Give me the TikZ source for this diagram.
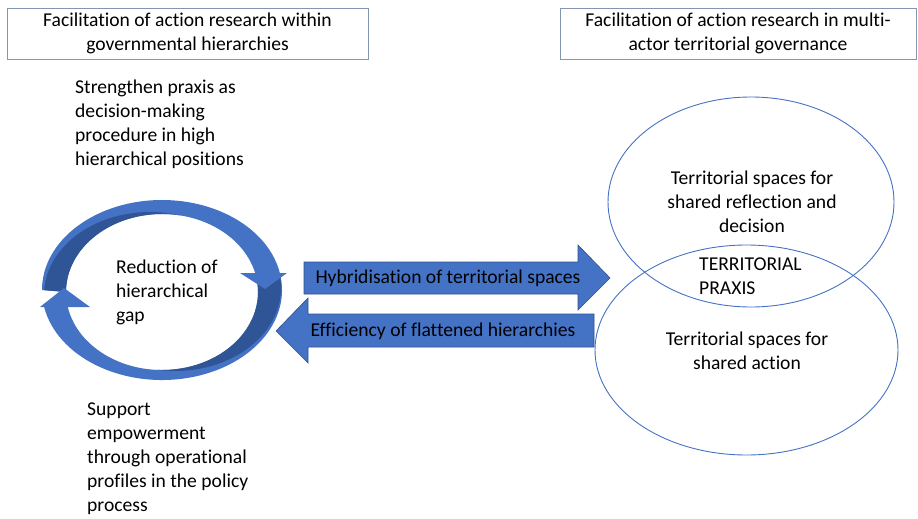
\documentclass[tikz,border=0pt]{standalone}
\usepackage{fontspec}
\setmainfont{Carlito}[Ligatures={NoCommon}]
\usetikzlibrary{shapes.geometric}
\definecolor{lightblue}{HTML}{4472C4}
\definecolor{darkblue}{HTML}{2F5597}
\definecolor{boxline}{HTML}{8497B0}
\definecolor{arrowline}{HTML}{2F528F}
\tikzset{
  txt/.style={inner sep=0pt, font=\fontsize{19.6}{24}\selectfont},
  titlebox/.style={draw=boxline, line width=1pt, minimum width=361pt, minimum height=51pt, inner sep=0pt},
  blockarrow/.style={fill=lightblue, draw=arrowline, line width=0.6pt},
  venn/.style={ellipse, draw=lightblue, line width=0.9pt, inner sep=0pt},
}
\begin{document}
\begin{tikzpicture}[x=1pt,y=1pt]
\useasboundingbox (0,0) rectangle (918,-519);
% title boxes
\node[titlebox] (tb1) at (187.5,-34.5) {};
\node[txt, align=center] (tt1) at (187.5,-33) {Facilitation of action research within\\governmental hierarchies};
\node[titlebox, minimum width=356pt] (tb2) at (738,-34.5) {};
\node[txt, align=center] (tt2) at (738,-33) {Facilitation of action research in multi-\\actor territorial governance};
% left texts
\node[txt, align=left, anchor=west] (strength) at (75,-124.5) {Strengthen praxis as\\decision-making\\procedure in high\\hierarchical positions};
\node[txt, align=left, anchor=west] (support) at (87,-459) {Support\\empowerment\\through operational\\profiles in the policy\\process};
% circular arrows: bottom arrow
\path[fill=lightblue] (279.8,-272.83) arc[start angle=11, end angle=-169, x radius=120pt, y radius=90pt]
  -- (67.76,-306.88) arc[start angle=-169, end angle=11, x radius=96pt, y radius=78pt] -- cycle;
\begin{scope}
\clip (279.8,-272.83) arc[start angle=11, end angle=-169, x radius=120pt, y radius=90pt]
  -- (67.76,-306.88) arc[start angle=-169, end angle=11, x radius=96pt, y radius=78pt] -- cycle;
\fill[darkblue] (175,-288) ellipse[x radius=106pt, y radius=83pt];
\end{scope}
% top arrow
\path[fill=lightblue] (42,-290) arc[start angle=180, end angle=11, x radius=120pt, y radius=90pt]
  -- (256.24,-277.12) arc[start angle=11, end angle=180, x radius=96pt, y radius=78pt] -- cycle;
\begin{scope}
\clip (42,-290) arc[start angle=180, end angle=11, x radius=120pt, y radius=90pt]
  -- (256.24,-277.12) arc[start angle=11, end angle=180, x radius=96pt, y radius=78pt] -- cycle;
\fill[darkblue] (150,-295) ellipse[x radius=106pt, y radius=83pt];
\end{scope}
% heads
\fill[lightblue] (240,-273) -- (287,-273) -- (265,-289) -- cycle;
\fill[lightblue] (40,-307) -- (90,-307) -- (64,-288) -- cycle;
\node[txt, align=left, anchor=west] (reduction) at (116,-292) {Reduction of\\hierarchical\\gap};
% block arrows
\path[blockarrow] (304,-262) -- (578,-262) -- (578,-245) -- (610,-278) -- (578,-310) -- (578,-294) -- (304,-294) -- cycle;
\node[txt] (hyb) at (448,-278) {Hybridisation of territorial spaces};
\path[blockarrow] (594,-314) -- (308,-314) -- (308,-298) -- (276,-331) -- (308,-363) -- (308,-347) -- (594,-347) -- cycle;
\node[txt] (eff) at (443,-331) {Efficiency of flattened hierarchies};
% ellipses
\node[venn, minimum width=286pt, minimum height=210pt] (upper) at (751,-202) {};
\node[venn, minimum width=303pt, minimum height=210pt] (lower) at (746.5,-350) {};
\node[txt, align=center] (uppertxt) at (752,-202) {Territorial spaces for\\shared reflection and\\decision};
\node[txt, align=left, anchor=west] (praxis) at (699,-276.5) {TERRITORIAL\\PRAXIS};
\node[txt, align=center] (lowertxt) at (747,-350.5) {Territorial spaces for\\shared action};
\end{tikzpicture}
\end{document}
